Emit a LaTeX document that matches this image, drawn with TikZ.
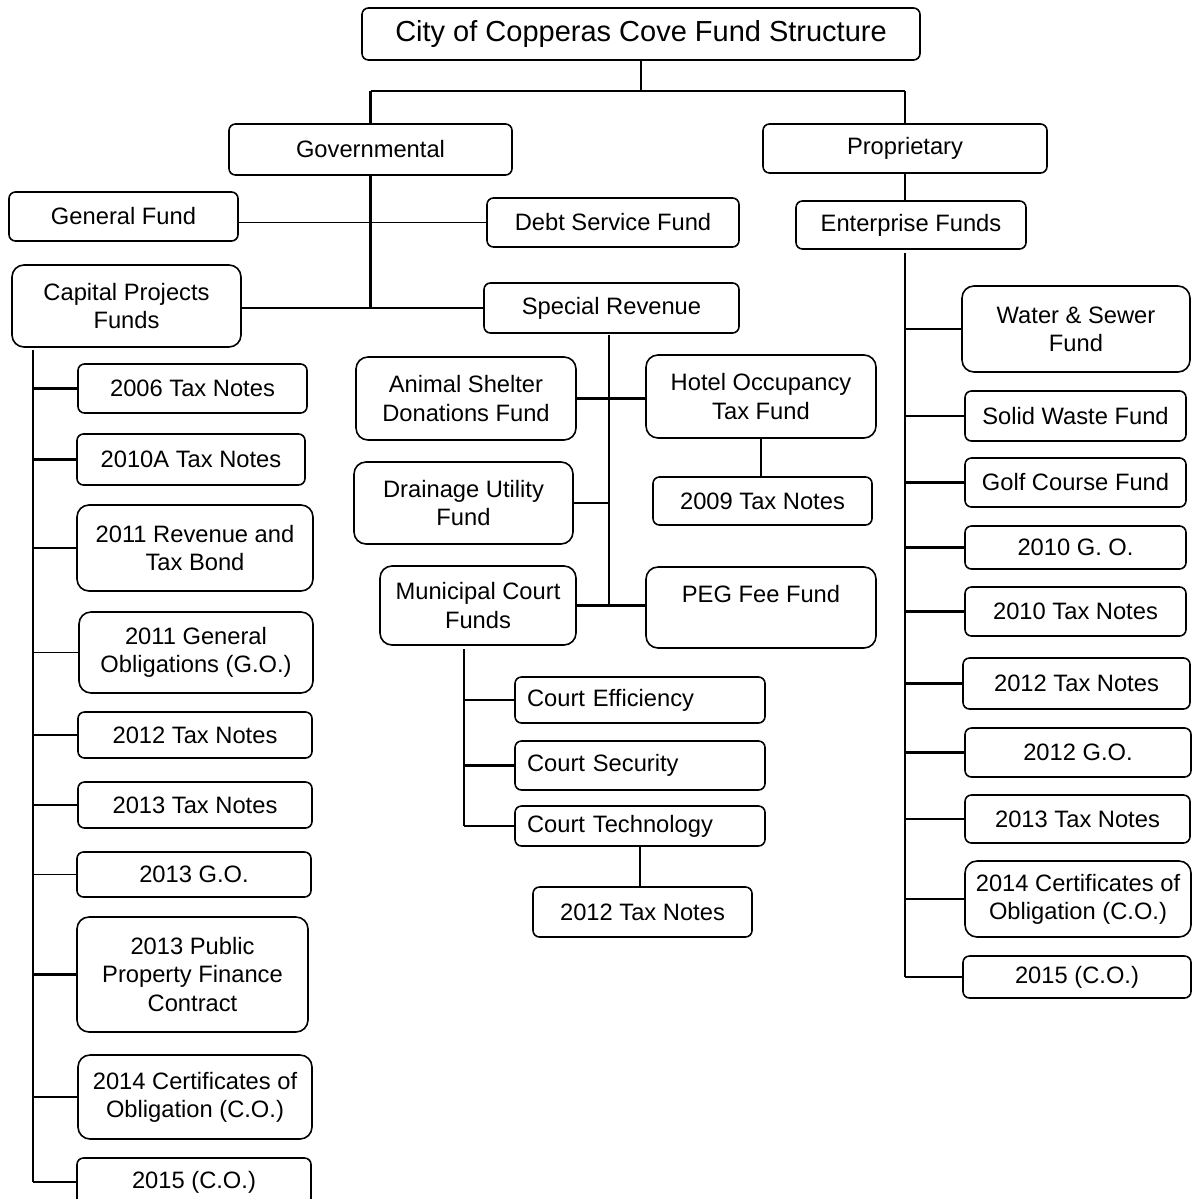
\documentclass[tikz,border=0pt]{standalone}
\usepackage{fontspec}
\setmainfont{Liberation Sans}
\usetikzlibrary{calc}

\begin{document}
\begin{tikzpicture}[
  x=0.02cm, y=-0.02cm,
  font=\fontsize{13.5}{16}\selectfont,
  box/.style={draw=black, line width=0.9pt, rectangle, rounded corners=1.3mm, align=center, inner sep=0pt, fill=white},
  tallbox/.style={box, rounded corners=2.4mm},
  courtbox/.style={box, align=left, text width=226*0.02cm, inner xsep=12*0.02cm},
  sz/.style 2 args={minimum width=#1*0.02cm, minimum height=#2*0.02cm},
  link/.style={line width=1.6pt},
  trunk/.style={line width=1.1pt},
  thinlink/.style={line width=0.8pt}
]
  \useasboundingbox (0,0) rectangle (1193,1199);
  \clip (0,0) rectangle (1193,1199);

  % top levels
  \node[box, sz={558}{52}, font=\fontsize{16.5}{19}\selectfont] (title) at (641,34) {City of Copperas Cove Fund Structure};
  \node[box, sz={283}{51}] (gov) at (370.5,149.5) {Governmental};
  \node[box, sz={284}{49}] (prop) at (905,148.5) {Proprietary};
  \node[box, sz={230}{48}] (ent) at (911,225) {Enterprise Funds};

  % governmental funds
  \node[box, sz={229}{49}] (gen) at (123.5,216.5) {General Fund};
  \node[box, sz={252}{49}] (debt) at (613,222.5) {Debt Service Fund};
  \node[tallbox, sz={229}{82}] (cap) at (126.5,306) {Capital Projects\\Funds};
  \node[box, sz={255}{50}] (spec) at (611.5,308) {Special Revenue};

  % special revenue
  \node[tallbox, sz={220}{83}] (animal) at (466,398.5) {Animal Shelter\\Donations Fund};
  \node[tallbox, sz={230}{83}] (hotel) at (761,396.5) {Hotel Occupancy\\Tax Fund};
  \node[box, sz={219}{48}] (tn09) at (762.5,501) {2009 Tax Notes};
  \node[tallbox, sz={219}{82}] (drain) at (463.5,503) {Drainage Utility\\Fund};
  \node[tallbox, sz={196}{79}] (muni) at (478,605.5) {Municipal Court\\Funds};
  \node[tallbox, sz={230}{81}] (peg) at (761,607.5) {PEG Fee Fund\\\mbox{}};
  \node[courtbox, sz={250}{46}] (ceff) at (640,700) {Court Efficiency};
  \node[courtbox, sz={250}{49}] (csec) at (640,765.5) {Court Security};
  \node[courtbox, sz={250}{40}] (ctech) at (640,826) {Court Technology};
  \node[box, sz={219}{50}] (tn12m) at (642.5,912) {2012 Tax Notes};

  % capital projects
  \node[box, sz={229}{49}] (n06) at (192.5,388.5) {2006 Tax Notes};
  \node[box, sz={228}{51}] (n10a) at (191,459.5) {2010A Tax Notes};
  \node[tallbox, sz={236}{86}] (rev11) at (195,548) {2011 Revenue and\\Tax Bond};
  \node[tallbox, sz={234}{81}] (go11) at (196,652.5) {2011 General\\Obligations (G.O.)};
  \node[box, sz={234}{46}] (n12) at (195,735) {2012 Tax Notes};
  \node[box, sz={234}{46}] (n13) at (195,805) {2013 Tax Notes};
  \node[box, sz={234}{45}] (go13) at (194,874.5) {2013 G.O.};
  \node[tallbox, sz={231}{115}] (ppfc) at (192.5,974.5) {2013 Public\\Property Finance\\Contract};
  \node[tallbox, sz={234}{84}] (co14l) at (195,1097) {2014 Certificates of\\Obligation (C.O.)};
  \node[box, sz={234}{48}] (co15l) at (194,1182) {2015 (C.O.)};

  % enterprise funds
  \node[tallbox, sz={228}{86}] (ws) at (1076,329) {Water \& Sewer\\Fund};
  \node[box, sz={221}{50}] (sw) at (1075.5,416) {Solid Waste Fund};
  \node[box, sz={221}{49}] (golf) at (1075.5,482.5) {Golf Course Fund};
  \node[box, sz={221}{43}] (go10) at (1075.5,547.5) {2010 G. O.};
  \node[box, sz={221}{49}] (n10) at (1075.5,611.5) {2010 Tax Notes};
  \node[box, sz={227}{51}] (n12r) at (1076.5,683.5) {2012 Tax Notes};
  \node[box, sz={226}{49}] (go12) at (1078,752.5) {2012 G.O.};
  \node[box, sz={225}{48}] (n13r) at (1077.5,819) {2013 Tax Notes};
  \node[tallbox, sz={226}{76}] (co14r) at (1078,899) {2014 Certificates of\\Obligation (C.O.)};
  \node[box, sz={228}{42}] (co15r) at (1077,977) {2015 (C.O.)};

  \coordinate (top) at (641,91);
  \coordinate (captop) at (33,350);
  \coordinate (spectop) at (609,335);
  \coordinate (munitop) at (464,649);
  \coordinate (enttop) at (905,253);

  % top connectors
  \draw[link] (title.south) -- (title.south |- top);
  \draw[trunk] (gov.north |- top) -- (prop.north |- top);
  \draw[link] (gov.north |- top) -- (gov.north);
  \draw[link] (prop.north |- top) -- (prop.north);
  \draw[link] (prop.south) -- (prop.south |- ent.north);

  % governmental
  \draw[link] (gov.south) -- (gov.south |- spec.west);
  \draw[trunk] (gen.east |- debt.west) -- (debt.west);
  \draw[link] (cap.east |- spec.west) -- (spec.west);

  % special revenue
  \draw[trunk] (spectop) -- (spectop |- muni.east);
  \draw[link] (animal.east) -- (animal.east -| hotel.west);
  \draw[trunk] (drain.east) -- (drain.east -| spectop);
  \draw[link] (muni.east) -- (muni.east -| peg.west);
  \draw[link] (hotel.south) -- (hotel.south |- tn09.north);
  \draw[thinlink] (munitop) -- (munitop |- ctech.west);
  \draw[link] (ceff.west -| munitop) -- (ceff.west);
  \draw[link] (csec.west -| munitop) -- (csec.west);
  \draw[link] (ctech.west -| munitop) -- (ctech.west);
  \draw[link] (ctech.south) -- (ctech.south |- tn12m.north);

  % capital projects
  \draw[trunk] (captop) -- (captop |- co15l.west);
  \draw[link] (n06.west -| captop) -- (n06.west);
  \draw[link] (n10a.west -| captop) -- (n10a.west);
  \draw[link] (rev11.west -| captop) -- (rev11.west);
  \draw[thinlink] (go11.west -| captop) -- (go11.west);
  \draw[thinlink] (n12.west -| captop) -- (n12.west);
  \draw[link] (n13.west -| captop) -- (n13.west);
  \draw[thinlink] (go13.west -| captop) -- (go13.west);
  \draw[link] (ppfc.west -| captop) -- (ppfc.west);
  \draw[link] (co14l.west -| captop) -- (co14l.west);
  \draw[link] (co15l.west -| captop) -- (co15l.west);

  % enterprise funds
  \draw[trunk] (enttop) -- (enttop |- co15r.west);
  \draw[link] (ws.west -| enttop) -- (ws.west);
  \draw[link] (sw.west -| enttop) -- (sw.west);
  \draw[link] (golf.west -| enttop) -- (golf.west);
  \draw[link] (go10.west -| enttop) -- (go10.west);
  \draw[link] (n10.west -| enttop) -- (n10.west);
  \draw[link] (n12r.west -| enttop) -- (n12r.west);
  \draw[link] (go12.west -| enttop) -- (go12.west);
  \draw[link] (n13r.west -| enttop) -- (n13r.west);
  \draw[link] (co14r.west -| enttop) -- (co14r.west);
  \draw[link] (co15r.west -| enttop) -- (co15r.west);
\end{tikzpicture}
\end{document}
